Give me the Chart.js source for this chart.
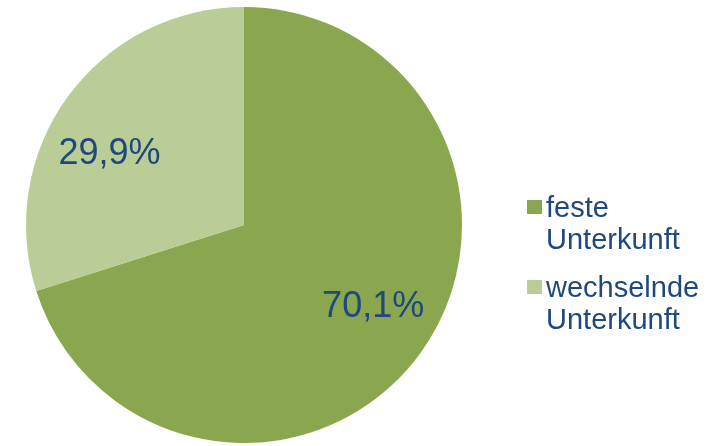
<!DOCTYPE html>
<html>
<head>
<meta charset="utf-8">
<script src="https://cdn.jsdelivr.net/npm/chart.js@4/dist/chart.umd.min.js"></script>
<style>
  html, body { margin: 0; padding: 0; background: #ffffff; }
  #wrap { width: 716px; height: 446px; position: relative; }
</style>
</head>
<body>
<div id="wrap"><canvas id="c"></canvas></div>
<script>
const categories = ["feste Unterkunft", "wechselnde Unterkunft"];
const values = [70.1, 29.9];
const valueLabels = ["70,1%", "29,9%"];
const colors = ["#8aa64f", "#bacd96"];
const labelAngleShiftDeg = [-4, -8];
const textColor = "#1f497d";
const fontFamily = "'Liberation Sans', Arial, sans-serif";

const labelPlugin = {
  id: 'sliceLabels',
  afterDatasetsDraw(chart) {
    const ctx = chart.ctx;
    const meta = chart.getDatasetMeta(0);
    ctx.save();
    ctx.font = "36px " + fontFamily;
    ctx.fillStyle = textColor;
    ctx.textAlign = "center";
    ctx.textBaseline = "middle";
    meta.data.forEach((arc, i) => {
      const p = arc.getProps(['x', 'y', 'startAngle', 'endAngle', 'outerRadius'], true);
      const mid = (p.startAngle + p.endAngle) / 2 + labelAngleShiftDeg[i] * Math.PI / 180;
      const r = p.outerRadius * 0.70;
      ctx.fillText(valueLabels[i], p.x + Math.cos(mid) * r, p.y + Math.sin(mid) * r + 1);
    });
    ctx.restore();
  }
};

const legendPlugin = {
  id: 'sideLegend',
  afterDraw(chart) {
    const ctx = chart.ctx;
    const ds = chart.data.datasets[0];
    ctx.save();
    ctx.font = "29px " + fontFamily;
    ctx.fillStyle = textColor;
    ctx.textAlign = "left";
    ctx.textBaseline = "alphabetic";
    const x0 = 527, textX = 546;
    let baseline = 217;
    const lineH = 32, gap = 16;
    chart.data.labels.forEach((lab, i) => {
      ctx.fillStyle = ds.backgroundColor[i];
      ctx.fillRect(x0, baseline - 17, 15, 14);
      ctx.fillStyle = textColor;
      const lines = lab.split(" ");
      lines.forEach((ln, j) => {
        ctx.fillText(ln, textX, baseline + j * lineH);
      });
      baseline += lines.length * lineH + gap;
    });
    ctx.restore();
  }
};

new Chart(document.getElementById('c'), {
  type: 'pie',
  data: {
    labels: categories,
    datasets: [{
      data: values,
      backgroundColor: colors,
      borderWidth: 0,
      hoverOffset: 0
    }]
  },
  options: {
    responsive: true,
    maintainAspectRatio: false,
    animation: false,
    devicePixelRatio: 1,
    layout: { padding: { left: 24, right: 252, top: 7, bottom: 3 } },
    plugins: {
      legend: { display: false },
      tooltip: { enabled: false }
    }
  },
  plugins: [labelPlugin, legendPlugin]
});
</script>
</body>
</html>
